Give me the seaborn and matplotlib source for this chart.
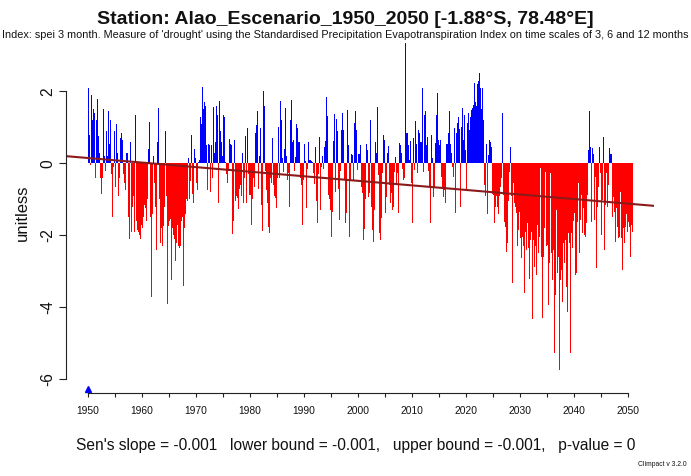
import numpy as np
import pandas as pd
import matplotlib
matplotlib.use("Agg")
import matplotlib.pyplot as plt
import seaborn as sns
from matplotlib.ticker import FixedLocator, FixedFormatter
from matplotlib.transforms import blended_transform_factory

# ---- station / index metadata ----
station = "Alao_Escenario_1950_2050"
lat, lon = -1.88, 78.48
subtitle = ("Index: spei 3 month. Measure of 'drought' using the Standardised Precipitation "
            "Evapotranspiration Index on time scales of 3, 6 and 12 months")
y_units = "unitless"
version = "Climpact v 3.2.0"

# ---- SPEI-3, two-month steps (6 values per year), by decade ----
first_year = 1950
steps_per_year = 6

spei_1950s = [
    2.1, 0.8, 1.3, -0.05, 1.9, 1.2, 1.5, 1.4, -0.4, 1.2,
    1.8, 0.75, 0.55, 0.3, -0.4, -0.85, -0.4, 1.5, 0.2, -0.2,
    0.9, 0.2, 2.05, 1.45, 0.55, 1.2, -0.3, -1.5, -0.1, 0.9,
    -0.65, 1.1, 1.55, 0.3, -0.9, -0.4, 0.7, 0.85, 0.65, -0.3,
    -0.55, -0.75, -1.1, 0.28, 0.28, -1.5, -2.1, 0.6, -1.9, -1.2,
    -0.9, -1.9, -1.4, 1.35, -1.6, -1.85, -1.9, -2.0, -2.1, -1.7,
]
spei_1960s = [
    -1.8, -1.5, -1.3, -1.15, -1.25, -1.6, -1.0, 0.4, 1.15, -1.5,
    -3.7, -1.4, 0.15, 0.2, -0.55, -1.2, -2.4, 0.6, 1.55, -1.0,
    -2.2, -1.8, -2.9, -2.3, -1.75, -1.2, 0.9, -0.9, -3.9, -1.75,
    -1.6, -1.55, -2.2, -3.25, -1.8, -2.0, -2.1, -2.7, -2.2, -1.7,
    -2.3, -2.35, -1.2, -2.3, -1.6, -1.5, -3.4, -1.8, -1.4, -1.0,
    -1.05, 0.14, -0.85, -1.0, -0.5, 0.8, -0.85, -1.1, 0.4, 0.15,
]
spei_1970s = [
    -0.55, -0.75, -1.45, 0.05, 0.1, 1.3, 1.1, 2.13, 1.5, 1.7,
    1.6, 0.5, -0.15, -0.75, 0.55, 0.5, -0.8, 0.5, -0.4, 1.57,
    0.3, 0.6, -0.9, 1.6, 1.35, -1.1, 1.73, 0.9, 0.6, 0.2,
    1.35, 1.3, 0.2, 0.05, -0.3, -0.55, -0.2, 0.68, 0.55, 0.5,
    -1.95, -1.6, -1.0, 0.65, -1.05, -0.9, -0.95, -1.28, -0.7, -0.6,
    -0.9, 0.28, -0.85, -1.1, -0.4, 0.76, -1.1, 0.97, -0.3, -0.88,
]
spei_1980s = [
    -0.88, -1.71, -1.48, -1.0, -0.42, -0.65, 0.83, 1.07, 1.44, -0.7,
    0.2, 0.97, 1.45, -1.15, -1.87, 2.0, 1.6, -0.2, -0.75, -1.1,
    -1.76, -1.94, 0.3, -0.4, -0.55, 0.7, -0.6, -0.9, -0.95, -1.25,
    -0.4, 1.0, 0.3, -0.42, 1.73, 1.2, 0.14, -0.25, 0.4, 1.55,
    0.2, -0.46, 0.23, -0.28, -1.2, 1.2, 1.76, 0.6, 0.65, -0.2,
    0.18, 1.09, 1.76, 0.97, 0.6, 0.6, -0.4, -0.6, -1.71, -0.46,
]
spei_1990s = [
    0.55, 0.07, -1.3, -1.25, -0.15, 0.6, 0.1, 0.08, 0.07, 0.05,
    -0.28, -0.58, -1.85, 0.46, -1.05, -1.67, -0.3, 0.74, -1.3, -0.1,
    0.2, -0.15, -0.28, 0.44, 0.63, 1.85, 1.31, -0.88, -1.0, -1.3,
    -2.04, -1.35, -0.8, 0.63, 1.37, -0.8, 1.22, 0.9, -0.7, -1.57,
    -0.2, 0.93, -0.14, 1.39, 0.93, -0.46, -1.67, -1.39, 1.48, 0.5,
    -2.04, -0.46, -0.46, 0.25, 0.23, -0.46, 1.11, 1.44, 0.93, -0.18,
]
spei_2000s = [
    0.25, 0.25, -0.37, 0.5, -0.65, -0.83, -2.13, -1.83, -1.0, 0.53,
    0.37, -0.93, -1.76, -0.83, 1.2, -1.2, -1.85, -2.18, -1.3, 0.6,
    0.3, 1.57, 0.23, -0.32, -1.94, -2.13, -1.53, -0.28, 0.8, 0.65,
    -1.39, -0.93, 0.05, 0.28, 0.48, -0.6, -1.11, -0.83, -1.3, -1.2,
    -0.23, 0.17, -1.57, -0.6, -0.28, -1.39, 0.57, 0.5, 0.28, -0.17,
    -0.46, -0.42, 2.7, 3.35, 0.83, 0.83, 0.5, 0.1, 0.63, -0.56,
]
spei_2010s = [
    -1.67, 0.7, 0.14, -0.19, 1.18, 0.55, -0.28, 0.93, 0.83, 0.6,
    0.6, 2.08, 0.83, -0.23, 1.34, 1.44, 0.5, 0.74, -0.2, -0.65,
    -1.65, 0.79, 1.62, 0.14, -0.93, -0.65, 0.57, 1.34, 1.94, 0.65,
    0.5, 0.65, -0.28, -0.37, -0.65, -0.93, -0.74, -1.11, 0.55, 0.55,
    0.83, 1.46, 1.25, 0.55, 0.28, -0.1, -0.37, 0.97, -1.39, 0.83,
    1.11, 1.28, 1.31, 0.94, -1.2, 1.0, 1.53, 0.65, 1.34, 0.37,
]
spei_2020s = [
    -0.7, 1.11, 1.39, 1.41, 0.93, 1.3, 1.48, 1.53, 1.62, 2.22,
    1.7, 1.6, 2.3, 2.2, 2.3, 2.5, 2.08, 1.5, 2.1, 1.2,
    -0.6, -0.9, 0.28, 0.55, -1.4, 0.23, 0.65, 0.6, 0.46, -0.85,
    -0.88, -1.67, -3.68, -1.2, -0.9, -1.2, -1.4, -0.9, -0.65, -0.4,
    1.39, -0.88, -0.83, -1.62, -1.76, -2.45, -2.22, -1.06, -0.23, 0.44,
    -0.9, -3.33, -1.43, -0.55, -1.11, -1.2, -1.39, -2.31, -1.85, -1.34,
]
spei_2030s = [
    -2.08, -2.64, -1.39, -2.04, -2.31, -3.6, -1.9, -2.4, -1.67, -2.36,
    -3.2, -2.13, -2.55, -1.9, -4.33, -2.13, -2.87, -2.31, -3.1, -1.71,
    -2.5, -2.04, -1.81, -0.14, -2.59, -4.3, -2.59, -1.8, -0.23, -2.31,
    -2.27, -3.94, -2.13, -2.78, -0.28, -2.5, -3.24, -2.4, -5.28, -3.66,
    -1.3, -3.06, -3.38, -2.6, -5.74, -3.24, -2.96, -3.84, -2.22, -2.78,
    -2.13, -3.43, -2.5, -4.12, -1.94, -2.22, -5.28, -1.94, -2.36, -1.6,
]
spei_2040s = [
    -1.39, -3.1, -1.39, -3.06, -1.62, -0.55, -2.5, -1.57, -0.88, -1.94,
    -1.25, -1.99, -1.6, -2.04, -1.67, -0.88, 0.37, 1.45, 0.46, -1.62,
    0.42, 0.26, -1.67, -1.57, -0.37, -2.92, -1.2, -0.65, 0.44, -0.28,
    -1.99, -1.02, 0.14, 0.74, -2.4, -1.16, -0.28, -1.2, -0.6, 0.42,
    0.26, 0.26, -1.94, -1.48, -0.93, -1.34, -2.18, -1.25, -1.76, -2.08,
    -2.04, -0.79, -1.5, -2.08, -2.96, -1.81, -2.2, -1.76, -1.4, -1.9,
]
spei_2050 = [-1.62, -1.76, -2.0, -2.6, -1.7, -1.9]

# ---- Sen's slope trend (per month) ----
sen_slope = -0.001056
sen_lower = -0.00109
sen_upper = -0.00102
p_value = 0
trend_at_start = 0.148   # trend value at the first year

year_ticks = list(range(1950, 2051, 5))
y_ticks = [-6, -4, -2, 0, 2]

# ---- assemble series ----
values = np.array(spei_1950s + spei_1960s + spei_1970s + spei_1980s + spei_1990s
                  + spei_2000s + spei_2010s + spei_2020s + spei_2030s + spei_2040s
                  + spei_2050, dtype=float)
time = first_year + (np.arange(len(values)) + 0.5) / steps_per_year
df = pd.DataFrame({"year": time, "spei": values,
                   "sign": np.where(values >= 0, "wet", "dry")})

# ---- style ----
sns.set_theme(style="white")
plt.rcParams["font.family"] = ["Liberation Sans", "DejaVu Sans"]
plt.rcParams["axes.unicode_minus"] = False

W, H = 691, 476
fig = plt.figure(figsize=(W / 100, H / 100), dpi=100)
ax = fig.add_axes([66 / W, 1 - 393 / H, 588 / W, 360 / H])

sns.barplot(data=df, x="year", y="spei", hue="sign",
            palette={"wet": "#0000ff", "dry": "#ff0000"},
            native_scale=True, dodge=False, width=1.0, errorbar=None,
            saturation=1, linewidth=0, legend=False, ax=ax)

# axis range with the usual 4% padding on the time axis
t0, t1 = first_year, first_year + (len(values) - 1) / steps_per_year
pad = 0.04 * (t1 - t0)
xlim = (t0 - pad, t1 + pad)
ax.set_xlim(*xlim)
ax.set_ylim(-6.38, 3.62)

# Sen's slope trend line across the full plotting region
trend_x = np.array(xlim)
trend_y = trend_at_start + sen_slope * 12 * (trend_x - first_year)
sns.lineplot(x=trend_x, y=trend_y, color="#8b1a1a", lw=1.5, ax=ax)

# start-of-record marker on the time axis
tr = blended_transform_factory(ax.transData, ax.transAxes)
ax.plot([first_year], [0.011], marker="^", color="#0000ff", markersize=4.2,
        transform=tr, clip_on=False, linestyle="none")

# ---- axes in base-graphics style ----
for s in ["top", "right"]:
    ax.spines[s].set_visible(False)
for s in ["left", "bottom"]:
    ax.spines[s].set_color("#222222")
    ax.spines[s].set_linewidth(0.8)
ax.spines["left"].set_bounds(min(y_ticks), max(y_ticks))
ax.spines["bottom"].set_bounds(year_ticks[0], year_ticks[-1])

ax.xaxis.set_major_locator(FixedLocator(year_ticks))
ax.xaxis.set_major_formatter(FixedFormatter([str(y) if y % 10 == 0 else "" for y in year_ticks]))
ax.yaxis.set_major_locator(FixedLocator(y_ticks))
ax.yaxis.set_major_formatter(FixedFormatter([str(v) for v in y_ticks]))
ax.tick_params(axis="x", bottom=True, length=3, width=0.8, color="#222222",
               pad=6, labelsize=7.4, labelcolor="#111111")
ax.tick_params(axis="y", left=True, length=5, width=0.8, color="#222222",
               pad=3, labelsize=11.2, labelcolor="#111111", labelrotation=90)
for lab in ax.get_yticklabels():
    lab.set_verticalalignment("center")
ax.set_xlabel("")
ax.set_ylabel("")
ax.grid(False)

# ---- texts ----
fig.text(345.5 / W, 1 - 24 / H, f"Station: {station} [{lat:.2f}°S, {lon:.2f}°E]",
         ha="center", va="baseline", fontsize=14, fontweight="bold", color="#111111")
fig.text(345.5 / W, 1 - 37.5 / H, subtitle, ha="center", va="baseline",
         fontsize=7.85, color="#111111")
fig.text(22 / W, 1 - 213 / H, y_units, rotation=90, ha="center", va="center",
         fontsize=12, color="#111111")
fig.text(356 / W, 1 - 450 / H,
         f"Sen's slope = {sen_slope:.3f}   lower bound = {sen_lower:.3f},   "
         f"upper bound = {sen_upper:.3f},   p-value = {p_value}",
         ha="center", va="baseline", fontsize=11.2, color="#111111")
fig.text(687 / W, 1 - 466 / H, version, ha="right", va="baseline",
         fontsize=4.9, color="#111111")

fig.savefig("out.png", dpi=100)
